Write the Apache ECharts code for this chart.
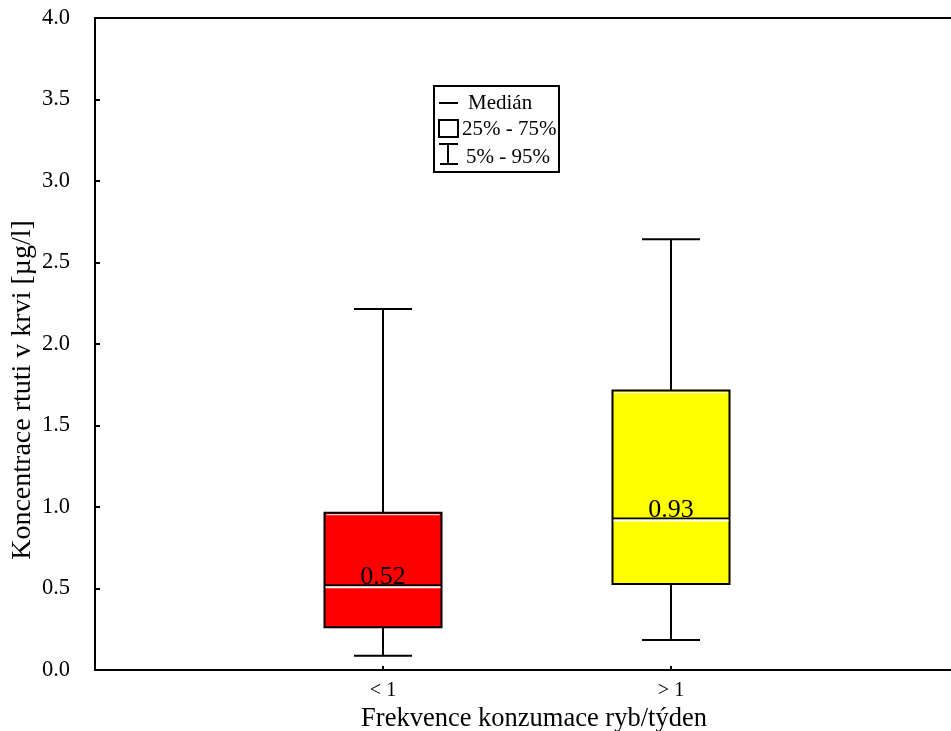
<!DOCTYPE html>
<html>
<head>
<meta charset="utf-8">
<script src="https://cdn.jsdelivr.net/npm/echarts@6/dist/echarts.min.js"></script>
<style>html,body{margin:0;padding:0;background:#fff}#c{width:951px;height:731px}</style>
</head>
<body>
<div id="c"></div>
<script>
var categories = ['', '< 1', '> 1', ''];
var groupIndex = [1, 2];
var p5 = [0.088, 0.184];
var p25 = [0.262, 0.528];
var medians = [0.52, 0.93];
var p75 = [0.965, 1.714];
var p95 = [2.215, 2.642];
var boxColors = ['#ff0000', '#ffff00'];
var legendLabels = ['Medián', '25% - 75%', '5% - 95%'];
var xTitle = 'Frekvence konzumace ryb/týden';
var yTitle = 'Koncentrace rtuti v krvi [µg/l]';

var FONT = '"Liberation Serif","Times New Roman",serif';
var data = groupIndex.map(function (g, i) {
  return [g, p5[i], p25[i], medians[i], p75[i], p95[i]];
});

var chart = echarts.init(document.getElementById('c'));
chart.setOption({
  animation: false,
  backgroundColor: '#fff',
  grid: { left: 95, right: -8, top: 18, bottom: 61, containLabel: false, outerBoundsMode: 'none',
    show: true, borderColor: '#000', borderWidth: 2, backgroundColor: 'transparent' },
  xAxis: {
    type: 'category', data: categories, boundaryGap: false,
    axisLine: { lineStyle: { color: '#000', width: 2 } },
    axisTick: { inside: true, length: 4, lineStyle: { color: '#000', width: 2 } },
    axisLabel: { color: '#000', fontFamily: FONT, fontSize: 20, margin: 11 },
    splitLine: { show: false },
    name: xTitle, nameLocation: 'middle', nameGap: 35,
    nameTextStyle: { color: '#000', fontFamily: FONT, fontSize: 26.5, padding: [0, 0, 0, 14] }
  },
  yAxis: {
    type: 'value', min: 0, max: 4, interval: 0.5,
    axisLine: { show: true, lineStyle: { color: '#000', width: 2 } },
    axisTick: { show: true, inside: true, length: 5, lineStyle: { color: '#000', width: 2 } },
    axisLabel: { color: '#000', fontFamily: FONT, fontSize: 22.5, margin: 25,
      formatter: function (v) { return v.toFixed(1); } },
    splitLine: { show: false },
    name: yTitle, nameLocation: 'middle', nameGap: 58, nameMoveOverlap: false,
    nameTextStyle: { color: '#000', fontFamily: FONT, fontSize: 28, padding: [0, 92, 0, 0] }
  },
  series: [{
    type: 'custom',
    data: data,
    encode: { x: 0, y: [1, 2, 3, 4, 5] },
    renderItem: function (params, api) {
      var x = api.value(0);
      var lo = api.coord([x, api.value(1)]);
      var q1 = api.coord([x, api.value(2)]);
      var md = api.coord([x, api.value(3)]);
      var q3 = api.coord([x, api.value(4)]);
      var hi = api.coord([x, api.value(5)]);
      var cx = Math.round(lo[0]);
      var bw = 117, cw = 58;
      var ls = { stroke: '#000', lineWidth: 2 };
      var i = params.dataIndex;
      return {
        type: 'group',
        children: [
          { type: 'line', shape: { x1: cx, y1: hi[1], x2: cx, y2: q3[1] }, style: ls },
          { type: 'line', shape: { x1: cx, y1: q1[1], x2: cx, y2: lo[1] }, style: ls },
          { type: 'line', shape: { x1: cx - cw / 2, y1: hi[1], x2: cx + cw / 2, y2: hi[1] }, style: ls },
          { type: 'line', shape: { x1: cx - cw / 2, y1: lo[1], x2: cx + cw / 2, y2: lo[1] }, style: ls },
          { type: 'rect', shape: { x: cx - bw / 2, y: q3[1], width: bw, height: q1[1] - q3[1] },
            style: { fill: boxColors[i], stroke: '#000', lineWidth: 2 } },
          { type: 'line', shape: { x1: cx - bw / 2 + 2, y1: q3[1] + 2, x2: cx + bw / 2 - 2, y2: q3[1] + 2 },
            style: { stroke: '#fff', lineWidth: 1 } },
          { type: 'line', shape: { x1: cx - bw / 2, y1: md[1], x2: cx + bw / 2, y2: md[1] },
            style: { stroke: '#000', lineWidth: 2 } },
          { type: 'line', shape: { x1: cx - bw / 2 + 1, y1: md[1] + 2, x2: cx + bw / 2 - 1, y2: md[1] + 2 },
            style: { stroke: '#fff', lineWidth: 2 } },
          { type: 'text', x: cx, y: md[1] + 5,
            style: { text: api.value(3).toFixed(2), fill: '#000', font: '26px ' + FONT,
              align: 'center', verticalAlign: 'bottom' } }
        ]
      };
    }
  }],
  graphic: [
    { type: 'rect', left: 433, top: 85, shape: { width: 125, height: 86 },
      style: { fill: '#fff', stroke: '#000', lineWidth: 2 }, z: 10 },
    { type: 'line', shape: { x1: 439, y1: 103, x2: 458, y2: 103 }, style: { stroke: '#000', lineWidth: 2 }, z: 11 },
    { type: 'rect', shape: { x: 439, y: 120, width: 19, height: 17 }, style: { fill: '#fff', stroke: '#000', lineWidth: 2 }, z: 11 },
    { type: 'line', shape: { x1: 439, y1: 144, x2: 458, y2: 144 }, style: { stroke: '#000', lineWidth: 2 }, z: 11 },
    { type: 'line', shape: { x1: 448, y1: 144, x2: 448, y2: 164 }, style: { stroke: '#000', lineWidth: 2 }, z: 11 },
    { type: 'line', shape: { x1: 440, y1: 164, x2: 458, y2: 164 }, style: { stroke: '#000', lineWidth: 2 }, z: 11 },
    { type: 'text', x: 468, y: 103, style: { text: legendLabels[0], fill: '#000', font: '21px ' + FONT, verticalAlign: 'middle' }, z: 11 },
    { type: 'text', x: 462, y: 129, style: { text: legendLabels[1], fill: '#000', font: '21px ' + FONT, verticalAlign: 'middle' }, z: 11 },
    { type: 'text', x: 466, y: 157, style: { text: legendLabels[2], fill: '#000', font: '21px ' + FONT, verticalAlign: 'middle' }, z: 11 }
  ]
});
</script>
</body>
</html>
